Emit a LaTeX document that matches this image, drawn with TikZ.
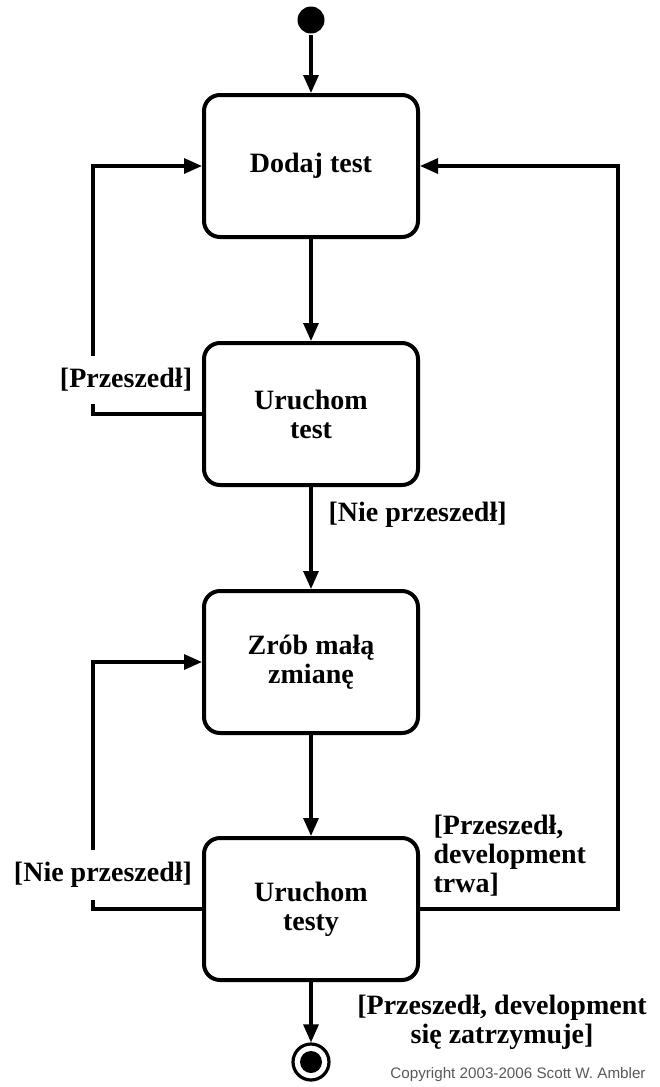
\documentclass[tikz,border=0pt]{standalone}
\usepackage{fontspec}
\setmainfont{Liberation Serif}
\newfontfamily\copyfont{Liberation Sans}
\usetikzlibrary{arrows.meta}

\begin{document}
\begin{tikzpicture}[x=0.5pt,y=-0.5pt,line width=1.6pt,
  state/.style={draw,line width=2pt,rounded corners=8pt,minimum width=107pt,
    minimum height=71pt,align=center,font=\bfseries\fontsize{14}{14.5}\selectfont},
  guard/.style={font=\bfseries\fontsize{14}{14.5}\selectfont,inner sep=1pt},
  flow/.style={-{Triangle[length=9pt,width=7.5pt]}}]
  \useasboundingbox (0,0) rectangle (659,1087);

  % states
  \node[circle,fill,inner sep=0pt,minimum size=13.5pt] (start) at (311,20) {};
  \node[state] (addtest) at (311,166) {Dodaj test};
  \node[state] (runtest) at (311,414) {Uruchom\\test};
  \node[state] (change) at (311,662) {Zrób małą\\zmianę};
  \node[state] (runall) at (311,909) {Uruchom\\testy};
  \node[circle,draw,inner sep=0pt,minimum size=18pt] (stop) at (311,1062) {};
  \fill (stop.center) circle (5.5pt);

  % transitions
  \draw[flow] (start) -- (addtest);
  \draw[flow] (addtest) -- (runtest);
  \draw[flow] (runtest) -- (change);
  \draw[flow] (change) -- (runall);
  \draw[flow] (runall) -- (stop);
  \draw[flow] (runtest.west) -- ++(-109,0) |- (addtest.west);
  \draw[flow] (runall.west) -- ++(-109,0) |- (change.west);
  \draw[flow] (runall.east) -- ++(198,0) |- (addtest.east);

  % guards
  \node[guard,fill=white,inner ysep=6pt] (passA) at (126,380) {[Przeszedł]};
  \node[guard,anchor=west] (failA) at (325,515) {[Nie przeszedł]};
  \node[guard,fill=white,inner ysep=6pt] (failB) at (103,875) {[Nie przeszedł]};
  \node[guard,anchor=west,align=left] (passB) at (430,856) {[Przeszedł,\\development\\trwa]};
  \node[guard,align=center] (passC) at (502,1022) {[Przeszedł, development\\się zatrzymuje]};
  \node[font=\copyfont\fontsize{7.6}{8}\selectfont,text=black!65] (copy) at (518,1075)
    {Copyright 2003-2006 Scott W. Ambler};
\end{tikzpicture}
\end{document}
